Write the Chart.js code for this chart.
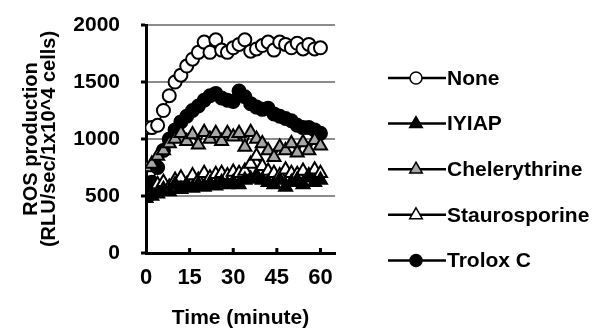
<!DOCTYPE html>
<html>
<head>
<meta charset="utf-8">
<script src="https://cdn.jsdelivr.net/npm/chart.js@4/dist/chart.umd.min.js"></script>
<style>
  html, body { margin: 0; padding: 0; background: #fff; }
  #wrap { position: relative; width: 603px; height: 333px; }
</style>
</head>
<body>
<div id="wrap"><canvas id="c" width="603" height="333"></canvas></div>
<script>
// Sampling times (minutes)
const minutes = [0, 2, 4, 6, 8, 10, 12, 14, 16, 18, 20, 22, 24, 26, 28, 30,
                 32, 34, 36, 38, 40, 42, 44, 46, 48, 50, 52, 54, 56, 58, 60];

// ROS production (RLU/sec/1x10^4 cells) per treatment
const none = [1100, 1100, 1120, 1250, 1380, 1500, 1560, 1640, 1700, 1760, 1850,
              1760, 1870, 1780, 1760, 1800, 1830, 1870, 1770, 1790, 1820, 1850,
              1780, 1850, 1830, 1800, 1840, 1790, 1830, 1790, 1800];
const iyiap = [480, 500, 520, 560, 540, 600, 560, 590, 570, 600, 580, 610, 590,
               620, 600, 620, 600, 640, 650, 680, 640, 620, 600, 640, 580, 620,
               640, 600, 660, 620, 640];
const chelerythrine = [750, 780, 850, 900, 960, 1000, 1050, 980, 1040, 950, 1060,
                       1000, 1050, 980, 1050, 1020, 1050, 930, 1060, 1000, 960,
                       900, 840, 930, 900, 960, 880, 970, 900, 990, 940];
const staurosporine = [500, 530, 600, 620, 580, 640, 660, 600, 680, 640, 700, 660,
                       690, 700, 680, 710, 700, 720, 780, 850, 760, 720, 700, 680,
                       730, 700, 690, 720, 680, 730, 700];
const troloxC = [550, 620, 750, 900, 1000, 1080, 1150, 1200, 1250, 1290, 1340, 1380,
                 1400, 1360, 1340, 1330, 1420, 1370, 1310, 1280, 1260, 1270, 1220,
                 1200, 1180, 1160, 1120, 1100, 1100, 1080, 1050];

const xTicks = [0, 15, 30, 45, 60];
const yTicks = [0, 500, 1000, 1500, 2000];

const FONT = '"Liberation Sans", Arial, sans-serif';

function series(label, values, style, fill, radius) {
  return {
    label: label,
    data: minutes.map((t, i) => ({ x: t, y: values[i] })),
    borderColor: '#000',
    borderWidth: 2,
    pointStyle: style,
    pointRadius: radius,
    pointBackgroundColor: fill,
    pointBorderColor: '#000',
    pointBorderWidth: 2,
    tension: 0
  };
}

// Small inward tick marks on the time axis
const innerTicks = {
  id: 'innerTicks',
  afterDraw(chart) {
    const ctx = chart.ctx;
    const xs = chart.scales.x;
    const yb = chart.chartArea.bottom;
    ctx.save();
    ctx.fillStyle = '#000';
    xTicks.forEach(v => {
      if (v === 0) return;
      const px = xs.getPixelForValue(v);
      ctx.fillRect(px - 1.5, yb - 5, 3, 5);
    });
    ctx.restore();
  }
};

// Legend at the right: short line with the marker in the middle, then the name
const sideLegend = {
  id: 'sideLegend',
  afterDraw(chart) {
    const ctx = chart.ctx;
    const x0 = 388, x1 = 446, xm = 416, y0 = 78, dy = 45.6;
    ctx.save();
    chart.data.datasets.forEach((ds, i) => {
      const y = y0 + i * dy;
      ctx.strokeStyle = '#000';
      ctx.lineWidth = 2.5;
      ctx.beginPath();
      ctx.moveTo(x0, y);
      ctx.lineTo(x1, y);
      ctx.stroke();
      ctx.fillStyle = ds.pointBackgroundColor;
      ctx.lineWidth = 1.5;
      ctx.beginPath();
      if (ds.pointStyle === 'circle') {
        ctx.arc(xm, y, 6, 0, Math.PI * 2);
      } else {
        const r = 7;
        ctx.moveTo(xm, y - r);
        ctx.lineTo(xm + r * 0.9, y + r * 0.55);
        ctx.lineTo(xm - r * 0.9, y + r * 0.55);
        ctx.closePath();
      }
      ctx.fill();
      ctx.stroke();
      ctx.fillStyle = '#000';
      ctx.font = 'bold 21px ' + FONT;
      ctx.textBaseline = 'middle';
      ctx.textAlign = 'left';
      ctx.fillText(ds.label, 447, y + 1);
    });
    ctx.restore();
  }
};

new Chart(document.getElementById('c'), {
  type: 'line',
  data: {
    datasets: [
      series('None', none, 'circle', '#fff', 6.5),
      series('IYIAP', iyiap, 'triangle', '#000', 7.5),
      series('Chelerythrine', chelerythrine, 'triangle', '#a6a6a6', 7.5),
      series('Staurosporine', staurosporine, 'triangle', '#fff', 7.5),
      series('Trolox C', troloxC, 'circle', '#000', 6.5)
    ]
  },
  options: {
    responsive: false,
    animation: false,
    layout: { padding: { left: 0, right: 268, top: 25, bottom: 0 } },
    plugins: { legend: { display: false }, tooltip: { enabled: false } },
    scales: {
      x: {
        type: 'linear',
        min: 0,
        max: 65,
        afterBuildTicks(scale) { scale.ticks = xTicks.map(v => ({ value: v })); },
        afterFit(scale) { scale.height = 80; },
        border: { color: '#000', width: 3 },
        grid: { display: true, drawOnChartArea: false, drawTicks: false },
        ticks: {
          color: '#000',
          padding: 12,
          maxRotation: 0,
          callback: v => String(v),
          font: { family: FONT, size: 22, weight: 'bold' }
        },
        title: {
          display: true,
          text: 'Time (minute)',
          color: '#000',
          font: { family: FONT, size: 21, weight: 'bold', lineHeight: '20px' },
          padding: { top: 0, bottom: 5 }
        }
      },
      y: {
        min: 0,
        max: 2000,
        afterBuildTicks(scale) { scale.ticks = yTicks.map(v => ({ value: v })); },
        afterFit(scale) {
          scale.width = 146;
          scale.paddingTop = 0;
          scale.paddingBottom = 0;
        },
        border: { color: '#000', width: 3 },
        grid: {
          color: ctx => (ctx.tick && ctx.tick.value === 0) ? 'rgba(0,0,0,0)' : '#8c8c8c',
          lineWidth: 2,
          drawTicks: true,
          tickLength: 5,
          tickColor: '#000',
          tickWidth: 3
        },
        ticks: {
          color: '#000',
          padding: 21,
          callback: v => String(v),
          font: { family: FONT, size: 21, weight: 'bold' }
        },
        title: {
          display: true,
          text: ['ROS production', '(RLU/sec/1x10^4 cells)'],
          color: '#000',
          font: { family: FONT, size: 20, weight: 'bold', lineHeight: '18px' },
          padding: { top: 22, bottom: 0 }
        }
      }
    }
  },
  plugins: [sideLegend, innerTicks]
});
</script>
</body>
</html>
